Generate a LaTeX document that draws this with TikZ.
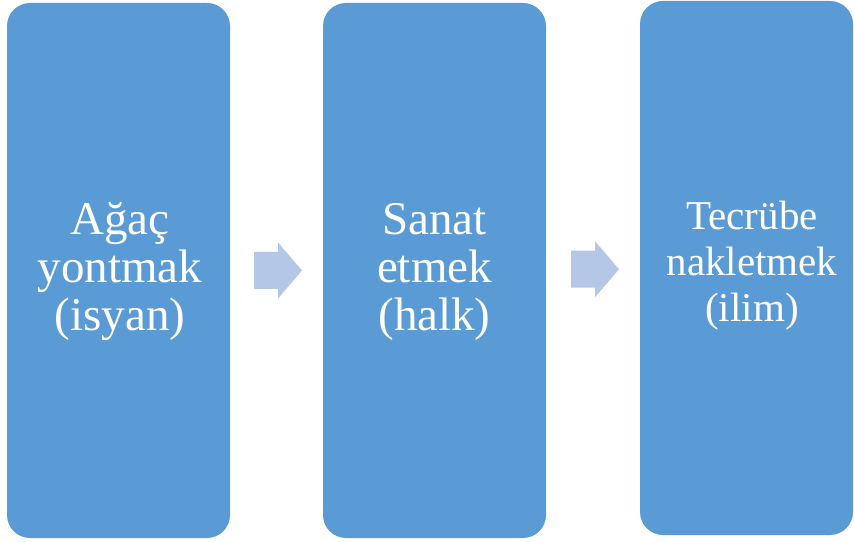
\documentclass[tikz,border=0pt]{standalone}
\usepackage{xcolor}
\usepackage{fontspec}
\setmainfont{Liberation Serif}
\usetikzlibrary{calc}
\definecolor{boxblue}{HTML}{5B9BD5}
\definecolor{arrowblue}{HTML}{B4C7E7}

\begin{document}
\begin{tikzpicture}[x=1pt,y=1pt,
	stage/.style={fill=boxblue,draw=none,rounded corners=23pt,minimum width=223pt,minimum height=535pt,inner sep=0pt},
	stagetext/.style={text=white,align=center,inner sep=0pt,font=\fontsize{47}{48}\selectfont},
	flow/.style={fill=arrowblue,draw=none}]
			\useasboundingbox (0,0) rectangle (854,541);
			\node[stage] (b1) at (118.5,270.5) {};
			\node[stage] (b2) at (434.5,270.5) {};
			\node[stage,minimum width=213pt,minimum height=534pt] (b3) at (746.5,273) {};
			\node[stagetext] (t1) at ([xshift=1.5pt,yshift=-1.5pt]b1.center) {Ağaç\\yontmak\\(isyan)};
			\node[stagetext] (t2) at ([yshift=-1.5pt]b2.center) {Sanat\\etmek\\(halk)};
			\node[stagetext,font=\fontsize{41}{46}\selectfont] (t3) at ([xshift=5.5pt,yshift=2pt]b3.center) {Tecrübe\\nakletmek\\(ilim)};
			\coordinate (a1) at ([xshift=1.5pt]$(b1.east)!0.5!(b2.west)$);
			\coordinate (a2) at ([xshift=2pt]$(b2.east)!0.5!(b3.west)$);
			\foreach \a in {a1,a2}
				\fill[flow,shift={(\a)}] (-24,-18.5) -- (0,-18.5) -- (0,-28) -- (24,0) -- (0,28) -- (0,18.5) -- (-24,18.5) -- cycle;
		\end{tikzpicture}
\end{document}
